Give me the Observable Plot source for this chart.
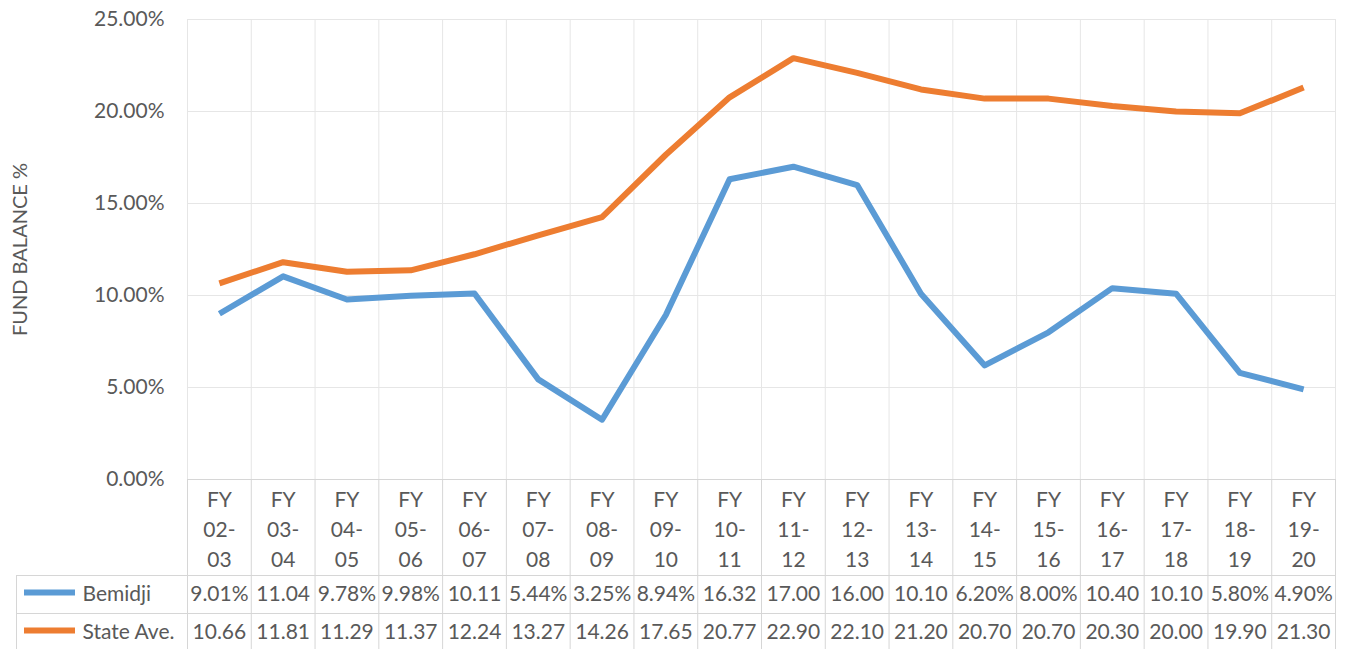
<!DOCTYPE html>
<html>
<head>
<meta charset="utf-8">
<script src="https://cdn.jsdelivr.net/npm/d3@7"></script>
<script src="https://cdn.jsdelivr.net/npm/@observablehq/plot@0.6"></script>
<style>
  html, body { margin: 0; padding: 0; background: #fff; }
  #chart svg { display: block; }
</style>
</head>
<body>
<div id="chart"></div>
<script>
const categories = ["FY 02-03","FY 03-04","FY 04-05","FY 05-06","FY 06-07","FY 07-08","FY 08-09","FY 09-10","FY 10-11","FY 11-12","FY 12-13","FY 13-14","FY 14-15","FY 15-16","FY 16-17","FY 17-18","FY 18-19","FY 19-20"];
const bemidji = [9.01, 11.04, 9.78, 9.98, 10.11, 5.44, 3.25, 8.94, 16.32, 17.00, 16.00, 10.10, 6.20, 8.00, 10.40, 10.10, 5.80, 4.90];
const stateAve = [10.66, 11.81, 11.29, 11.37, 12.24, 13.27, 14.26, 17.65, 20.77, 22.90, 22.10, 21.20, 20.70, 20.70, 20.30, 20.00, 19.90, 21.30];
const seriesNames = ["Bemidji", "State Ave."];
const seriesColors = ["#5B9BD5", "#ED7D31"];
const yTicks = [0, 5, 10, 15, 20, 25];
const yLabel = "FUND BALANCE %";

const seriesValues = [bemidji, stateAve];
const rows = seriesNames.flatMap((name, s) =>
  categories.map((c, i) => ({series: name, category: c, value: seriesValues[s][i], row: s})));

const W = 1346, H = 649;
const mL = 187, mR = 11, mT = 19, mB = 170;
const step = (W - mL - mR) / categories.length;
const plotH = H - mT - mB;
const rowTop = 96;      // table top, below x-axis baseline
const rowH = 38;
const tableLeft = 16;
const gridLight = "#e6e6e6";
const gridDark = "#d6d6d6";
const textColor = "#595959";

const pctLabel = v => (v.toFixed(2) + "%").slice(0, 5);
const catLabel = c => c.replace(" ", "\n").replace("-", "-\n");

const chart = Plot.plot({
  width: W,
  height: H,
  marginLeft: mL,
  marginRight: mR,
  marginTop: mT,
  marginBottom: mB,
  style: {fontFamily: "Lato, 'Open Sans', sans-serif", fontSize: "21px", color: textColor, background: "#fff", overflow: "visible"},
  x: {type: "point", domain: categories, padding: 0.5, round: false, axis: null},
  y: {domain: [0, 25], axis: null},
  color: {domain: seriesNames, range: seriesColors},
  marks: [
    // horizontal gridlines
    Plot.gridY({ticks: yTicks, stroke: gridLight, strokeOpacity: 1}),
    // vertical category boundaries within plot
    Plot.ruleX(categories, {x: d => d, dx: -step / 2, stroke: gridLight}),
    Plot.ruleX(categories.slice(-1), {x: d => d, dx: step / 2, stroke: gridLight}),
    // vertical boundaries in label / table region
    Plot.ruleX(categories, {x: d => d, dx: -step / 2, stroke: gridDark, insetTop: plotH, insetBottom: -mB}),
    Plot.ruleX(categories.slice(-1), {x: d => d, dx: step / 2, stroke: gridDark, insetTop: plotH, insetBottom: -mB}),
    // table left border
    Plot.ruleX(categories.slice(0, 1), {x: d => d, dx: -step / 2 - (mL - tableLeft), stroke: gridDark, insetTop: plotH + rowTop, insetBottom: -mB}),
    // baseline + table horizontal lines
    Plot.ruleY([0], {stroke: gridDark}),
    Plot.ruleY([0], {stroke: gridDark, dy: rowTop, insetLeft: -(mL - tableLeft)}),
    Plot.ruleY([0], {stroke: gridDark, dy: rowTop + rowH, insetLeft: -(mL - tableLeft)}),
    // y axis
    Plot.axisY({ticks: yTicks, tickFormat: d => d.toFixed(2) + "%", tickSize: 0, tickPadding: 23, label: null, fontSize: 21}),
    Plot.text([yLabel], {frameAnchor: "left", textAnchor: "middle", lineAnchor: "middle", rotate: -90, dx: -(mL - 20), fontSize: 20, fill: textColor}),
    // lines
    Plot.line(rows, {x: "category", y: "value", z: "series", stroke: "series", strokeWidth: 6, strokeLinejoin: "round", strokeLinecap: "butt"}),
    // category labels
    Plot.text(categories, {x: d => d, text: catLabel, frameAnchor: "bottom", lineAnchor: "middle", dy: 48, lineHeight: 1.42, fill: textColor}),
    // table values
    ...seriesNames.map((name, s) => Plot.text(rows, {x: "category", text: d => pctLabel(d.value), frameAnchor: "bottom", lineAnchor: "middle",
      filter: d => d.row === s, dy: rowTop + rowH * (s + 0.5), fill: textColor})),
    // legend keys in table
    ...seriesNames.map((name, s) => Plot.ruleY([0], {stroke: seriesColors[s], strokeWidth: 6,
      dy: rowTop + rowH * (s + 0.5) - 2, insetLeft: -(mL - 24), insetRight: (W - mR - mL) + (mL - 75)})),
    ...seriesNames.map((name, s) => Plot.text([name], {frameAnchor: "bottom-left", textAnchor: "start", lineAnchor: "middle",
      dx: -(mL - 82), dy: rowTop + rowH * (s + 0.5), fill: textColor}))
  ]
});
document.getElementById("chart").appendChild(chart);
</script>
</body>
</html>
